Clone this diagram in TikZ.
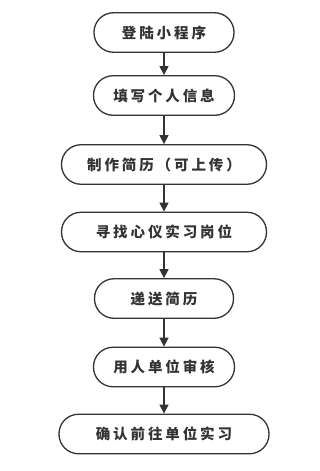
\documentclass[tikz,border=0pt]{standalone}
\usepackage{fontspec}
\setmainfont{Noto Sans CJK SC}[LetterSpace=20]
\usetikzlibrary{arrows.meta}
\definecolor{ink}{HTML}{333333}
\begin{document}
\begin{tikzpicture}[x=1pt,y=-1pt,
  stepbox/.style={draw=ink,line width=1.3pt,rounded corners=19.5pt,
    minimum height=39.5pt,inner sep=0pt,text=ink,font=\fontsize{14.5}{16}\selectfont\bfseries},
  flow/.style={draw=ink,line width=1.3pt,-{Triangle[length=9pt,width=9pt]}}]
\useasboundingbox (0,0) rectangle (319,471);
\node[stepbox,minimum width=140pt] (a) at (164,32.5) {登陆小程序};
\node[stepbox,minimum width=141pt] (b) at (164,95.5) {填写个人信息};
\node[stepbox,minimum width=205pt] (c) at (164,164.5) {制作简历（可上传）};
\node[stepbox,minimum width=205pt] (d) at (164,232) {寻找心仪实习岗位};
\node[stepbox,minimum width=139pt] (e) at (164,298.5) {递送简历};
\node[stepbox,minimum width=141pt] (f) at (164,367) {用人单位审核};
\node[stepbox,minimum width=210pt] (g) at (164,434) {确认前往单位实习};
\foreach \u/\v in {a/b,b/c,c/d,d/e,e/f,f/g}
  \draw[flow] (\u.south) -- (\v.north);
\end{tikzpicture}
\end{document}
